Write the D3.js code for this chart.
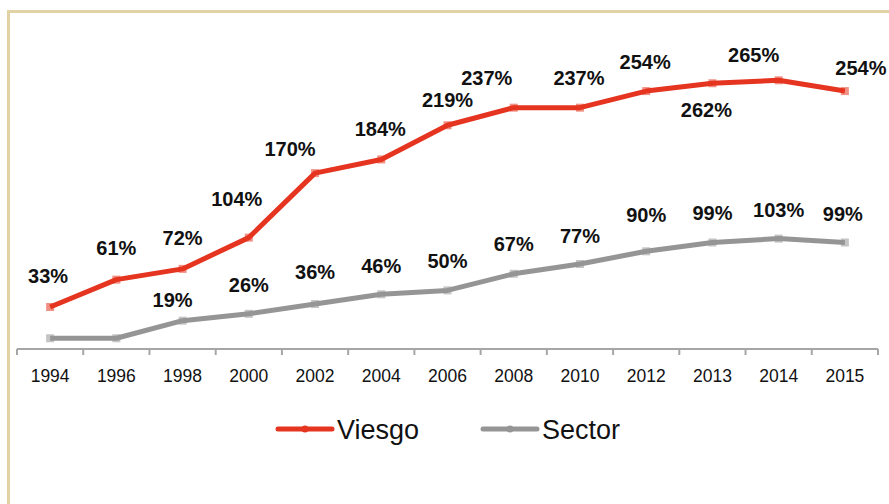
<!DOCTYPE html>
<html>
<head>
<meta charset="utf-8">
<script src="https://cdn.jsdelivr.net/npm/d3@7"></script>
<style>
  html, body { margin: 0; padding: 0; background: #fff; }
  svg { display: block; font-family: "Liberation Sans", Arial, sans-serif; }
</style>
</head>
<body>
<div id="chart"></div>
<script>
// --- DATEN ---
const years = ["1994", "1996", "1998", "2000", "2002", "2004", "2006", "2008", "2010", "2012", "2013", "2014", "2015"];
const viesgo = [33, 61, 72, 104, 170, 184, 219, 237, 237, 254, 262, 265, 254];
const sector = [1, 1, 19, 26, 36, 46, 50, 67, 77, 90, 99, 103, 99];
// welche Werte beschriftet werden (Sector 1994/1996 ohne Label)
const sectorLabeled = [false, false, true, true, true, true, true, true, true, true, true, true, true];
const seriesNames = ["Viesgo", "Sector"];

// Label-Versatz (nur Layout)
const viesgoOffsets = [[-2, -31], [0, -32], [0, -31], [-12, -39], [-25, -24], [-1, -30], [0, -25], [-27, -30], [-1, -30], [-1, -29], [-6, 27], [-25, -25], [16, -23]];
const sectorOffsets = [[0, 0], [0, 0], [-10, -21], [0, -29], [0, -32], [0, -28], [0, -29], [0, -30], [0, -28], [0, -36], [0, -30], [0, -29], [-2, -29]];

const width = 889, height = 504;
const red = "#e5341f", grey = "#959595";

const svg = d3.select("#chart").append("svg")
  .attr("width", width)
  .attr("height", height);

// Rahmen (läuft rechts und unten aus dem Bild)
svg.append("rect")
  .attr("x", 8.5).attr("y", 11.5)
  .attr("width", 1000).attr("height", 1000)
  .attr("fill", "none")
  .attr("stroke", "#e2d3a4")
  .attr("stroke-width", 3);

const x = d3.scaleBand()
  .domain(years)
  .range([17, 878]);

const y = d3.scaleLinear()
  .domain([-10, 270])
  .range([349, 349 - 280 * 0.977]);

const cx = d => x(d) + x.bandwidth() / 2;

// Achse
const xAxis = d3.axisBottom(x).tickSize(0).tickPadding(0);
const axisG = svg.append("g")
  .attr("transform", `translate(0, ${y(-10)})`)
  .call(xAxis)
  .attr("font-size", null)
  .attr("font-family", null);
axisG.select(".domain").remove();
axisG.selectAll("text")
  .attr("y", 33)
  .attr("dy", null)
  .style("font-size", "17.5px")
  .attr("fill", "#111");

axisG.append("line")
  .attr("x1", 17).attr("x2", 878)
  .attr("y1", 0).attr("y2", 0)
  .attr("stroke", "#a6a6a6")
  .attr("stroke-width", 2);

const tickPos = years.map(yr => x(yr)).concat([878]);
axisG.selectAll("line.tickmark")
  .data(tickPos)
  .enter().append("line")
  .attr("class", "tickmark")
  .attr("x1", d => d).attr("x2", d => d)
  .attr("y1", 0).attr("y2", 6)
  .attr("stroke", "#a6a6a6")
  .attr("stroke-width", 2);

// Linien
function drawSeries(values, color, offsets, labeled) {
  const pts = values.map((v, i) => ({ year: years[i], value: v, i: i }));
  const line = d3.line()
    .x(d => cx(d.year))
    .y(d => y(d.value));

  svg.append("path")
    .datum(pts)
    .attr("d", line)
    .attr("fill", "none")
    .attr("stroke", color)
    .attr("stroke-width", 5)
    .attr("stroke-linejoin", "round");

  svg.append("g").selectAll("rect")
    .data(pts)
    .enter().append("rect")
    .attr("x", d => cx(d.year) - 4)
    .attr("y", d => y(d.value) - 4)
    .attr("width", 8).attr("height", 8)
    .attr("fill", color)
    .attr("opacity", 0.55);

  svg.append("g").selectAll("text")
    .data(pts.filter(d => labeled ? labeled[d.i] : true))
    .enter().append("text")
    .attr("x", d => cx(d.year) + offsets[d.i][0])
    .attr("y", d => y(d.value) + offsets[d.i][1])
    .attr("dy", "0.35em")
    .attr("text-anchor", "middle")
    .style("font-size", "20px")
    .style("font-weight", "bold")
    .attr("fill", "#111")
    .text(d => d.value + "%");
}

drawSeries(sector, grey, sectorOffsets, sectorLabeled);
drawSeries(viesgo, red, viesgoOffsets, null);

// Legende
const legend = svg.append("g");
const legendItems = [
  { name: seriesNames[0], color: red, x: 278 },
  { name: seriesNames[1], color: grey, x: 483 }
];
legendItems.forEach(it => {
  legend.append("line")
    .attr("x1", it.x).attr("x2", it.x + 54)
    .attr("y1", 429).attr("y2", 429)
    .attr("stroke", it.color)
    .attr("stroke-width", 5)
    .attr("stroke-linecap", "round");
  legend.append("circle")
    .attr("cx", it.x + 27).attr("cy", 429)
    .attr("r", 3.5)
    .attr("fill", it.color);
  legend.append("text")
    .attr("x", it.x + 59)
    .attr("y", 429)
    .attr("dy", "0.36em")
    .style("font-size", "27px")
    .attr("fill", "#111")
    .text(it.name);
});
</script>
</body>
</html>
